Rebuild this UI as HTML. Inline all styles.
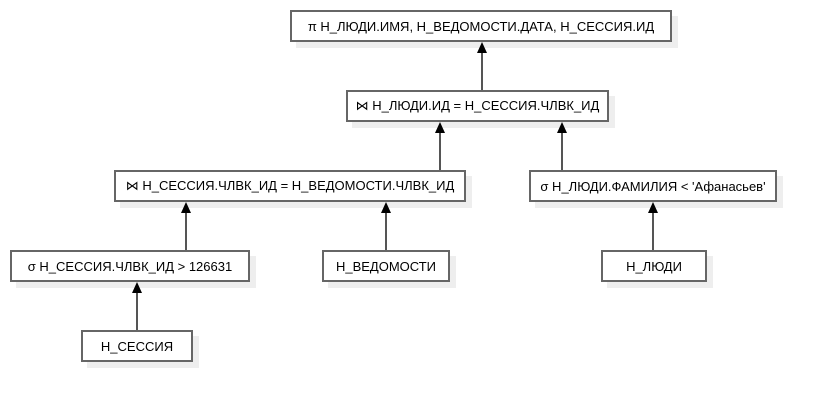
<!DOCTYPE html>
<html><head><meta charset="utf-8"><style>
body{margin:0;width:817px;height:402px;background:#fff;position:relative;overflow:hidden;font-family:"Liberation Sans",sans-serif;}
.b{position:absolute;box-sizing:border-box;height:32px;border:2px solid #666;background:#fff;box-shadow:6px 6px 0 #eee;font-size:13px;color:#000;display:flex;align-items:center;justify-content:center;white-space:nowrap;z-index:1;}
svg{position:absolute;left:0;top:0;z-index:2;}
</style></head><body>
<svg width="817" height="402">
<g stroke="#555" stroke-width="2">
<line x1="482" y1="90" x2="482" y2="50"/>
<line x1="440" y1="170" x2="440" y2="130"/>
<line x1="562" y1="170" x2="562" y2="130"/>
<line x1="186" y1="250" x2="186" y2="210"/>
<line x1="386" y1="250" x2="386" y2="210"/>
<line x1="653" y1="250" x2="653" y2="210"/>
<line x1="137" y1="330" x2="137" y2="290"/>
</g>
<g fill="#000">
<polygon points="482,42 477,53 487,53"/>
<polygon points="440,122 435,133 445,133"/>
<polygon points="562,122 557,133 567,133"/>
<polygon points="186,202 181,213 191,213"/>
<polygon points="386,202 381,213 391,213"/>
<polygon points="653,202 648,213 658,213"/>
<polygon points="137,282 132,293 142,293"/>
</g>
</svg>
<div class="b" style="left:290px;top:10px;width:382px">π Н_ЛЮДИ.ИМЯ, Н_ВЕДОМОСТИ.ДАТА, Н_СЕССИЯ.ИД</div>
<div class="b" style="left:346px;top:90px;width:263px">⋈ Н_ЛЮДИ.ИД = Н_СЕССИЯ.ЧЛВК_ИД</div>
<div class="b" style="left:114px;top:170px;width:352px">⋈ Н_СЕССИЯ.ЧЛВК_ИД = Н_ВЕДОМОСТИ.ЧЛВК_ИД</div>
<div class="b" style="left:529px;top:170px;width:248px">σ Н_ЛЮДИ.ФАМИЛИЯ &lt; 'Афанасьев'</div>
<div class="b" style="left:10px;top:250px;width:240px">σ Н_СЕССИЯ.ЧЛВК_ИД &gt; 126631</div>
<div class="b" style="left:322px;top:250px;width:128px">Н_ВЕДОМОСТИ</div>
<div class="b" style="left:601px;top:250px;width:106px">Н_ЛЮДИ</div>
<div class="b" style="left:81px;top:330px;width:112px">Н_СЕССИЯ</div>
</body></html>
